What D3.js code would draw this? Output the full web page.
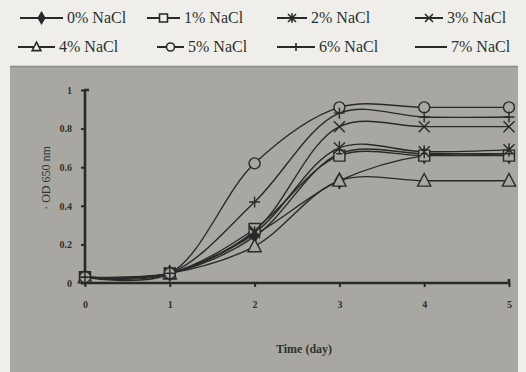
<!DOCTYPE html>
<html><head><meta charset="utf-8">
<script src="https://cdn.jsdelivr.net/npm/d3@7"></script>
<style>body{margin:0;background:#efeeea;} svg{display:block;}</style>
</head><body>
<script>
const days = [0, 1, 2, 3, 4, 5];
const seriesNames = ["0% NaCl","1% NaCl","2% NaCl","3% NaCl","4% NaCl","5% NaCl","6% NaCl","7% NaCl"];
const s0 = [0.03, 0.05, 0.25, 0.53, 0.66, 0.66];
const s1 = [0.03, 0.05, 0.28, 0.66, 0.66, 0.66];
const s2 = [0.03, 0.05, 0.26, 0.70, 0.68, 0.69];
const s3 = [0.03, 0.05, 0.27, 0.81, 0.81, 0.81];
const s4 = [0.03, 0.05, 0.19, 0.53, 0.53, 0.53];
const s5 = [0.03, 0.05, 0.62, 0.91, 0.91, 0.91];
const s6 = [0.03, 0.05, 0.42, 0.88, 0.86, 0.86];
const s7 = [0.03, 0.05, 0.24, 0.67, 0.67, 0.67];
const seriesValues = [s0, s1, s2, s3, s4, s5, s6, s7];
const markerTypes = ["diamond","square","asterisk","times","triangle","circle","plus","dash"];
const yTicks = [0, 0.2, 0.4, 0.6, 0.8, 1];
const xTicks = [0, 1, 2, 3, 4, 5];

const W = 526, H = 372;
const svg = d3.select("body").append("svg").attr("width", W).attr("height", H);
svg.append("rect").attr("width", W).attr("height", H).attr("fill", "#efeeea");
// gray panel
svg.append("rect").attr("x", 10).attr("y", 66).attr("width", 508).attr("height", 306).attr("fill", "#a8a7a2");
svg.append("line").attr("x1", 10).attr("x2", 518).attr("y1", 66.5).attr("y2", 66.5).attr("stroke", "#8d8c88").attr("stroke-width", 1.5);

const x = d3.scaleLinear().domain([0, 5]).range([85, 509]);
const y = d3.scaleLinear().domain([0, 1]).range([283, 90]);
const ink = "#262b29";
const font = "'Liberation Serif', 'Times New Roman', serif";

function markerPath(type, size) {
  const s = size;
  switch (type) {
    case "diamond": return d3.symbol(d3.symbolDiamond, s * s * 0.55)();
    case "square": return `M${-s/2},${-s/2}H${s/2}V${s/2}H${-s/2}Z`;
    case "triangle": return `M0,${-s*0.6}L${s*0.55},${s*0.45}L${-s*0.55},${s*0.45}Z`;
    case "circle": return d3.arc()({innerRadius:0, outerRadius:s/2, startAngle:0, endAngle:2*Math.PI});
    case "times": return `M${-s/2},${-s/2}L${s/2},${s/2}M${s/2},${-s/2}L${-s/2},${s/2}`;
    case "asterisk": return `M${-s/2},${-s/2}L${s/2},${s/2}M${s/2},${-s/2}L${-s/2},${s/2}M0,${-s*0.6}V${s*0.6}`;
    case "plus": return `M${-s/2},0H${s/2}M0,${-s/2}V${s/2}`;
    case "dash": return `M${-s*0.3},0H${s*0.3}`;
  }
}
function drawMarker(g, type, cx, cy, size) {
  const p = g.append("path").attr("d", markerPath(type, size)).attr("transform", `translate(${cx},${cy})`)
    .attr("stroke", ink).attr("stroke-width", 1.4);
  if (type === "diamond") p.attr("fill", ink);
  else if (["square","triangle","circle"].includes(type)) p.attr("fill", "#a8a7a2");
  else p.attr("fill", "none");
}

// axes
const yAxis = d3.axisLeft(y).tickValues(yTicks).tickSize(4).tickPadding(9)
  .tickFormat(d => d === 0 ? "0" : d === 1 ? "1" : d3.format(".1f")(d));
const gy = svg.append("g").attr("transform", `translate(${x(0)},0)`).call(yAxis);
const xAxis = d3.axisBottom(x).tickValues(xTicks).tickSize(4).tickPadding(14).tickFormat(d3.format("d"));
const gx = svg.append("g").attr("transform", `translate(0,${y(0)})`).call(xAxis);
[gx, gy].forEach(g => {
  g.select(".domain").attr("stroke", ink).attr("stroke-width", 2.6);
  g.selectAll(".tick line").attr("stroke", ink).attr("stroke-width", 2);
  g.selectAll(".tick text").attr("fill", "#2e3230").attr("font-family", font).attr("font-size", 10).attr("font-weight", "bold");
});
gy.select(".domain").attr("d", `M0,${y(0)}V${y(1)}H4`);
gx.select(".domain").attr("d", `M${x(0)},0H${x(5)}V-4`);

// axis titles
svg.append("text").attr("x", 304).attr("y", 353).attr("text-anchor", "middle")
  .attr("font-family", font).attr("font-size", 12).attr("font-weight", "bold").attr("fill", "#2e3230").text("Time (day)");
svg.append("text").attr("transform", "translate(50,178) rotate(-90)").attr("text-anchor", "middle")
  .attr("font-family", font).attr("font-size", 12).attr("fill", "#2e3230").text("· OD 650 nm");

// lines
const line = d3.line().x((d, i) => x(days[i])).y(d => y(d)).curve(d3.curveCatmullRom.alpha(0.5));
const plot = svg.append("g");
seriesValues.forEach((vals, si) => {
  plot.append("path").datum(vals).attr("d", line).attr("fill", "none").attr("stroke", ink).attr("stroke-width", 1.4);
});
seriesValues.forEach((vals, si) => {
  vals.forEach((v, i) => {
    const size = markerTypes[si] === "triangle" ? 12 : 11;
    drawMarker(plot, markerTypes[si], x(days[i]), y(v), size);
  });
});

// legend
const legendPos = [
  [20, 63, 18], [147, 180, 18], [277, 307, 18], [415, 443, 18],
  [18, 55, 47], [157, 184, 47], [277, 315, 47], [415, 447, 47]
];
const leg = svg.append("g");
seriesNames.forEach((name, i) => {
  const [x1, x2, ly] = legendPos[i];
  leg.append("line").attr("x1", x1).attr("x2", x2).attr("y1", ly).attr("y2", ly).attr("stroke", ink).attr("stroke-width", 2);
  const m = leg.append("g");
  drawMarker(m, markerTypes[i], (x1 + x2) / 2, ly, 8);
  m.selectAll("path").attr("stroke-width", 1.6).filter(function(){return d3.select(this).attr("fill") === "#a8a7a2";}).attr("fill", "#efeeea");
  leg.append("text").attr("x", x2 + 4).attr("y", ly + 5).attr("font-family", font).attr("font-size", 16)
    .attr("fill", "#2c302e").text(name);
});
</script>
</body></html>
